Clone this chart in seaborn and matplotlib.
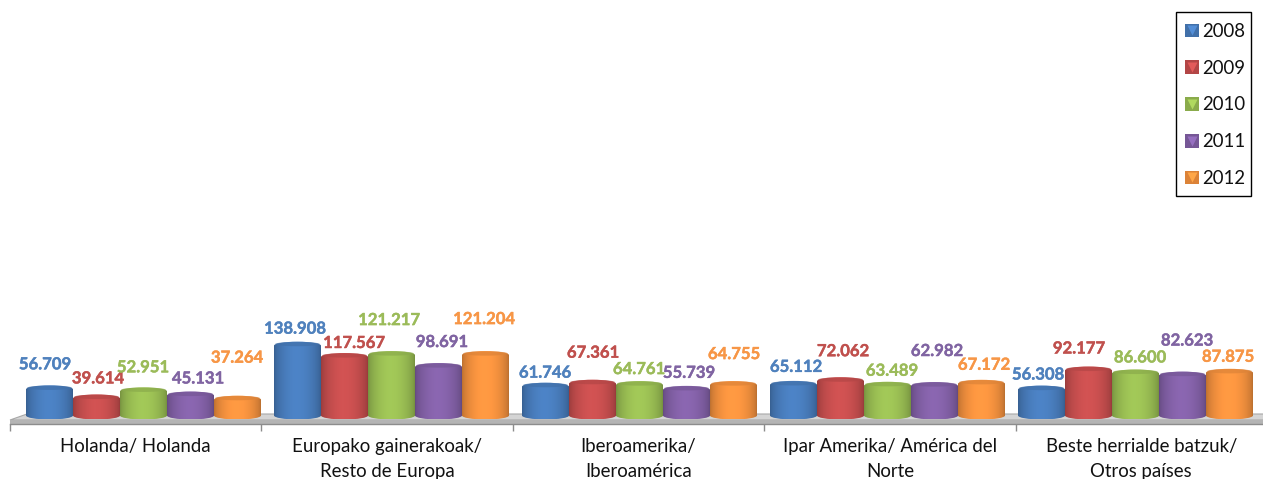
import matplotlib
matplotlib.use('Agg')
import matplotlib.pyplot as plt
import matplotlib.patheffects as pe
from matplotlib.patches import Patch, Polygon, PathPatch, Rectangle
from matplotlib.path import Path
from matplotlib.lines import Line2D
from matplotlib.legend_handler import HandlerTuple
import numpy as np
import pandas as pd
import seaborn as sns

# values
categories = ['Holanda/ Holanda', 'Europako gainerakoak/\nResto de Europa',
              'Iberoamerika/\nIberoamérica', 'Ipar Amerika/ América del\nNorte',
              'Beste herrialde batzuk/\nOtros países']
years = ['2008', '2009', '2010', '2011', '2012']
v2008 = [56709, 138908, 61746, 65112, 56308]
v2009 = [39614, 117567, 67361, 72062, 92177]
v2010 = [52951, 121217, 64761, 63489, 86600]
v2011 = [45131, 98691, 55739, 62982, 82623]
v2012 = [37264, 121204, 64755, 67172, 87875]
colors = ['#4A7FC0', '#CB5050', '#9DC255', '#8663AB', '#FA9540']
text_colors = ['#4F81BD', '#C0504D', '#9BBB59', '#8064A2', '#F79646']

# label offsets from the bar centre / bar top in pixels, one row per year
label_dx = [[-4.5, -2.5, -0.5, 2.5, -3.5], [1.5, 9.5, 0.5, 2.5, -9.5],
            [-0.5, -2.5, -0.5, 4.5, 4.5], [7.5, 3.5, 2.5, 2.5, 4.5],
            [-0.5, -1.5, 0.5, 2.5, -1.5]]
label_dy = [[25, 17, 14, 18, 15], [20, 14, 31, 30, 22],
            [24, 35, 16, 15, 16], [17, 25, 17, 35, 35],
            [42, 36, 31, 19, 16]]

W, H = 1263, 479
px_per_unit = 0.000531
ell_h = 4 / px_per_unit

df = pd.DataFrame({'cat': np.repeat(categories, 5),
                   'year': years * 5,
                   'value': np.array([v2008, v2009, v2010, v2011, v2012]).T.ravel()})

sns.set_theme(style='white')
plt.rcParams['font.family'] = ['Lato', 'DejaVu Sans']

fig = plt.figure(figsize=(W / 100, H / 100), dpi=100)


def px_axes(left, right, top, bottom):
    return fig.add_axes([left / W, 1 - bottom / H, (right - left) / W, (bottom - top) / H])


# axis with the ticks and the category names
ax_t = px_axes(10, 1267, 380, 424)
ax_t.set_xlim(0, 5)
ax_t.set_ylim(0, 1)
ax_t.patch.set_alpha(0)
for s in ['top', 'left', 'right']:
    ax_t.spines[s].set_visible(False)
ax_t.spines['bottom'].set_color('#8c8c8c')
ax_t.spines['bottom'].set_linewidth(1.0)
ax_t.set_yticks([])
ax_t.set_xticks(np.arange(6))
ax_t.set_xticklabels([])
ax_t.tick_params(axis='x', which='major', length=5, width=1, color='#8c8c8c', bottom=True)
ax_t.set_xticks(np.arange(5) + 0.5, minor=True)
ax_t.set_xticklabels(categories, minor=True, fontsize=13.4, color='#111111', linespacing=1.6)
ax_t.tick_params(axis='x', which='minor', length=0, pad=10)

# floor of the 3D chart, behind the axes
floor_top = Polygon([(10, 420), (27, 414), (1267, 414), (1267, 420)], closed=True,
                    transform=None, facecolor='#d4d4d4', edgecolor='#a8a8a8', lw=0.8)
floor_front = Polygon([(10, 420), (1267, 420), (1267, 424), (10, 424)], closed=True,
                      transform=None, facecolor='#b4b4b4', edgecolor='none')
for p in (floor_top, floor_front):
    p.set_xy([(x, H - y) for x, y in p.get_xy()])
    p.set_zorder(-1)
    fig.add_artist(p)

# bars
ax = px_axes(19.5, 1259.5, 310, 419.5)
sns.barplot(data=df, x='cat', y='value', hue='year', order=categories, hue_order=years,
            palette=colors, width=235 / 248, dodge=True, gap=0, legend=False, ax=ax)
ax.set_xlim(-0.5, 4.5)
ax.set_ylim(0, 206000)
ax.axis('off')
ax.patch.set_alpha(0)


def shade(color, n=64):
    rgb = np.array(matplotlib.colors.to_rgb(color))
    t = np.linspace(0, 1, n)
    m = 0.78 + 0.26 * np.sin(np.pi * t) ** 0.6 - 0.06 * np.abs(t - 0.45)
    img = np.clip(rgb[None, :] * m[:, None], 0, 1)
    return img[None, :, :]


def lighten(color, k):
    rgb = np.array(matplotlib.colors.to_rgb(color))
    return tuple(np.clip(rgb * k, 0, 1))


kappa = 0.5523
for i, bars in enumerate(ax.containers):
    for j, bar in enumerate(bars):
        bar.set_visible(False)
        x0 = bar.get_x()
        x1 = x0 + bar.get_width()
        xc = (x0 + x1) / 2
        v = bar.get_height()
        hw = (x1 - x0) / 2
        e = ell_h
        # cylinder body: straight sides, round bottom and top
        verts = [(x0, e), (x0, v),
                 (x0, v + e * kappa), (xc - hw * kappa, v + e), (xc, v + e),
                 (xc + hw * kappa, v + e), (x1, v + e * kappa), (x1, v),
                 (x1, e),
                 (x1, e - e * kappa), (xc + hw * kappa, 0), (xc, 0),
                 (xc - hw * kappa, 0), (x0, e - e * kappa), (x0, e), (x0, e)]
        codes = [Path.MOVETO, Path.LINETO,
                 Path.CURVE4, Path.CURVE4, Path.CURVE4,
                 Path.CURVE4, Path.CURVE4, Path.CURVE4,
                 Path.LINETO,
                 Path.CURVE4, Path.CURVE4, Path.CURVE4,
                 Path.CURVE4, Path.CURVE4, Path.CURVE4,
                 Path.CLOSEPOLY]
        clip = PathPatch(Path(verts, codes), transform=ax.transData, facecolor='none', edgecolor='none')
        ax.add_patch(clip)
        im = ax.imshow(shade(colors[i]), extent=(x0, x1, 0, v + e), aspect='auto',
                       zorder=2 + 0.01 * i, interpolation='bilinear')
        im.set_clip_path(clip)
        # slightly darker top lid
        t = np.linspace(0, 2 * np.pi, 60)
        lid = Polygon(np.c_[xc + hw * 0.95 * np.cos(t), v + e * 0.4 + e * 0.55 * np.sin(t)],
                      closed=True, facecolor=lighten(colors[i], 0.88), edgecolor='none',
                      zorder=2.2 + 0.01 * i, alpha=0.7)
        ax.add_patch(lid)
        label = f'{v / 1000:.3f}'
        ax.annotate(label, xy=(xc, v), xycoords='data',
                    xytext=(label_dx[i][j], label_dy[i][j]), textcoords='offset pixels',
                    ha='center', va='center', fontsize=12, fontweight='bold',
                    color=text_colors[i], annotation_clip=False, zorder=5,
                    path_effects=[pe.withStroke(linewidth=0.3, foreground=text_colors[i])])
ax.set_xlim(-0.5, 4.5)
ax.set_ylim(0, 206000)

# legend box and entries
box = Rectangle((1175.5 / W, 1 - 196 / H), 75.5 / W, 184 / H, transform=fig.transFigure,
                facecolor='white', edgecolor='black', lw=1.0, zorder=3)
fig.add_artist(box)
handles = [(Patch(facecolor=lighten(c, 0.88), edgecolor='none'),
            Line2D([], [], marker='v', ls='none', ms=6.5, markerfacecolor=lighten(c, 1.12),
                   markeredgecolor='none')) for c in colors]
leg = fig.legend(handles, years, handler_map={tuple: HandlerTuple(ndivide=1, pad=0)},
                 loc='upper left', bbox_to_anchor=(1185 / W, 1 - 23 / H),
                 frameon=False, fontsize=13.4, labelspacing=1.06, handlelength=0.75,
                 handleheight=0.75, handletextpad=0.2, borderpad=0, borderaxespad=0)
leg.set_zorder(4)
for t in leg.get_texts():
    t.set_color('#111111')

fig.savefig('out.png', dpi=100)
